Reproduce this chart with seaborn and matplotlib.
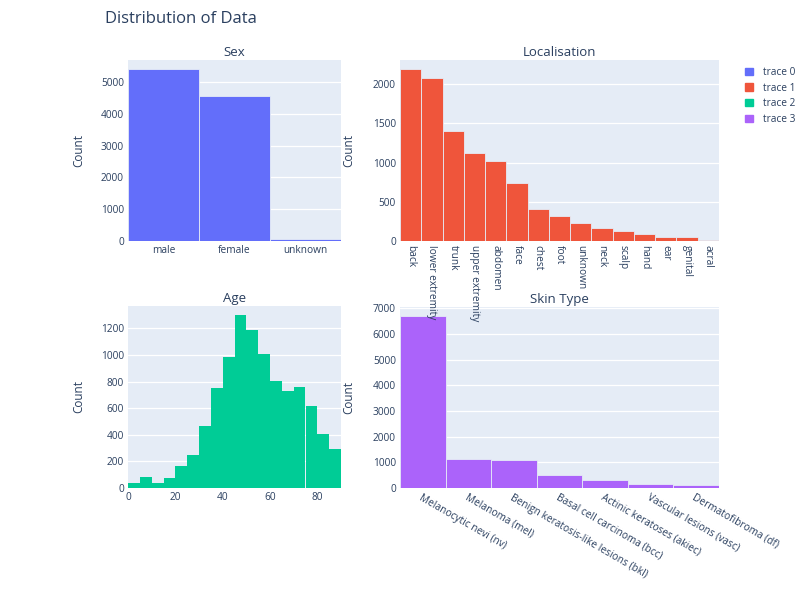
import numpy as np
import pandas as pd
import matplotlib
matplotlib.use("Agg")
import matplotlib.pyplot as plt
import seaborn as sns
from matplotlib.patches import Patch
from matplotlib.ticker import MultipleLocator

# --- data (HAM10000 metadata counts) ---
sex_labels = ["male", "female", "unknown"]
sex_counts = [5406, 4552, 57]

loc_labels = ["back", "lower extremity", "trunk", "upper extremity", "abdomen", "face",
              "chest", "foot", "unknown", "neck", "scalp", "hand", "ear", "genital", "acral"]
loc_counts = [2192, 2077, 1404, 1118, 1022, 745, 407, 319, 234, 168, 128, 90, 56, 48, 7]

age_values = [0, 5, 10, 15, 20, 25, 30, 35, 40, 45, 50, 55, 60, 65, 70, 75, 80, 85]
age_counts = [39, 86, 41, 77, 169, 247, 464, 753, 985, 1299, 1187, 1009, 803, 731, 756, 618, 404, 290]

dx_labels = ["Melanocytic nevi (nv)", "Melanoma (mel)", "Benign keratosis-like lesions (bkl)",
             "Basal cell carcinoma (bcc)", "Actinic keratoses (akiec)", "Vascular lesions (vasc)",
             "Dermatofibroma (df)"]
dx_counts = [6705, 1113, 1099, 514, 327, 142, 115]

colors = ["#636efa", "#EF553B", "#00cc96", "#ab63fa"]
bg = "#E5ECF6"
txt = "#2a3f5f"

sns.set_theme(style="darkgrid")
plt.rcParams['font.family'] = ['Open Sans', 'DejaVu Sans']
plt.rcParams['axes.facecolor'] = bg
plt.rcParams['grid.color'] = 'white'

W, H = 810, 591
fig = plt.figure(figsize=(W / 100, H / 100), dpi=100)
fig.patch.set_facecolor('white')


def px_axes(left, right, top, bottom):
    return fig.add_axes([left / W, 1 - bottom / H, (right - left) / W, (bottom - top) / H])


ax_sex = px_axes(128, 341, 60, 241)
ax_loc = px_axes(400, 719, 60, 241)
ax_age = px_axes(128, 341, 306, 488)
ax_dx = px_axes(400, 719, 307, 488)
ax_loc.set_zorder(3)  # rotated tick labels run over the panel below

bar_kw = dict(width=1.0, edgecolor=bg, linewidth=0.6, saturation=1)

# --- Sex ---
sns.barplot(x=sex_labels, y=sex_counts, color=colors[0], ax=ax_sex, **bar_kw)
ax_sex.set_xlim(-0.5, len(sex_labels) - 0.5)
ax_sex.set_ylim(0, max(sex_counts) * 1.0526)
ax_sex.yaxis.set_major_locator(MultipleLocator(1000))

# --- Localisation ---
sns.barplot(x=loc_labels, y=loc_counts, color=colors[1], ax=ax_loc, **bar_kw)
ax_loc.set_xlim(-0.5, len(loc_labels) - 0.5)
ax_loc.set_ylim(0, max(loc_counts) * 1.0526)
ax_loc.yaxis.set_major_locator(MultipleLocator(500))
for lab in ax_loc.get_xticklabels():
    lab.set_rotation(-90)
    lab.set_ha('center')
    lab.set_va('top')

# --- Age ---
age_df = pd.DataFrame({"age": age_values, "count": age_counts})
sns.histplot(data=age_df, x="age", weights="count", binwidth=5, binrange=(0, 90),
             color=colors[2], alpha=1, linewidth=0, ax=ax_age)
ax_age.set_xlim(0, 90)
ax_age.set_ylim(0, max(age_counts) * 1.0526)
ax_age.yaxis.set_major_locator(MultipleLocator(200))
ax_age.xaxis.set_major_locator(MultipleLocator(20))

# --- Skin Type ---
sns.barplot(x=dx_labels, y=dx_counts, color=colors[3], ax=ax_dx, **bar_kw)
ax_dx.set_xlim(-0.5, len(dx_labels) - 0.5)
ax_dx.set_ylim(0, max(dx_counts) * 1.0526)
ax_dx.yaxis.set_major_locator(MultipleLocator(1000))
for lab in ax_dx.get_xticklabels():
    lab.set_rotation(-30)
    lab.set_ha('left')
    lab.set_va('top')
    lab.set_rotation_mode('anchor')

titles = {ax_sex: "Sex", ax_loc: "Localisation", ax_age: "Age", ax_dx: "Skin Type"}
for ax, t in titles.items():
    ax.set_title(t, fontsize=9.5, color=txt, pad=3)
    ax.set_xlabel("")
    ax.set_ylabel("Count", fontsize=8.5, color=txt)
    ax.grid(axis='x', visible=False)
    ax.grid(axis='y', color='white', linewidth=0.9)
    ax.set_axisbelow(True)
    ax.tick_params(axis='both', length=0, labelsize=7.3, labelcolor=txt)
    ax.tick_params(axis='y', pad=3)
    ax.tick_params(axis='x', pad=3)
    for s in ax.spines.values():
        s.set_visible(False)

ax_sex.yaxis.set_label_coords(-43 / 213, 0.5)
ax_age.yaxis.set_label_coords(-43 / 213, 0.5)
ax_loc.yaxis.set_label_coords(-45 / 319, 0.5)
ax_dx.yaxis.set_label_coords(-45 / 319, 0.5)

fig.text(105 / W, 1 - 19 / H, "Distribution of Data", fontsize=12, color=txt,
         ha='left', va='center')

handles = [Patch(facecolor=c, edgecolor=c) for c in colors]
fig.legend(handles, [f"trace {i}" for i in range(4)], loc='upper left',
           bbox_to_anchor=(738 / W, 1 - 60 / H), frameon=False, fontsize=7.3,
           handlelength=0.75, handleheight=0.75, handletextpad=1.0, labelspacing=0.45,
           labelcolor=txt, borderpad=0.2)

fig.savefig("out.png", dpi=100)
